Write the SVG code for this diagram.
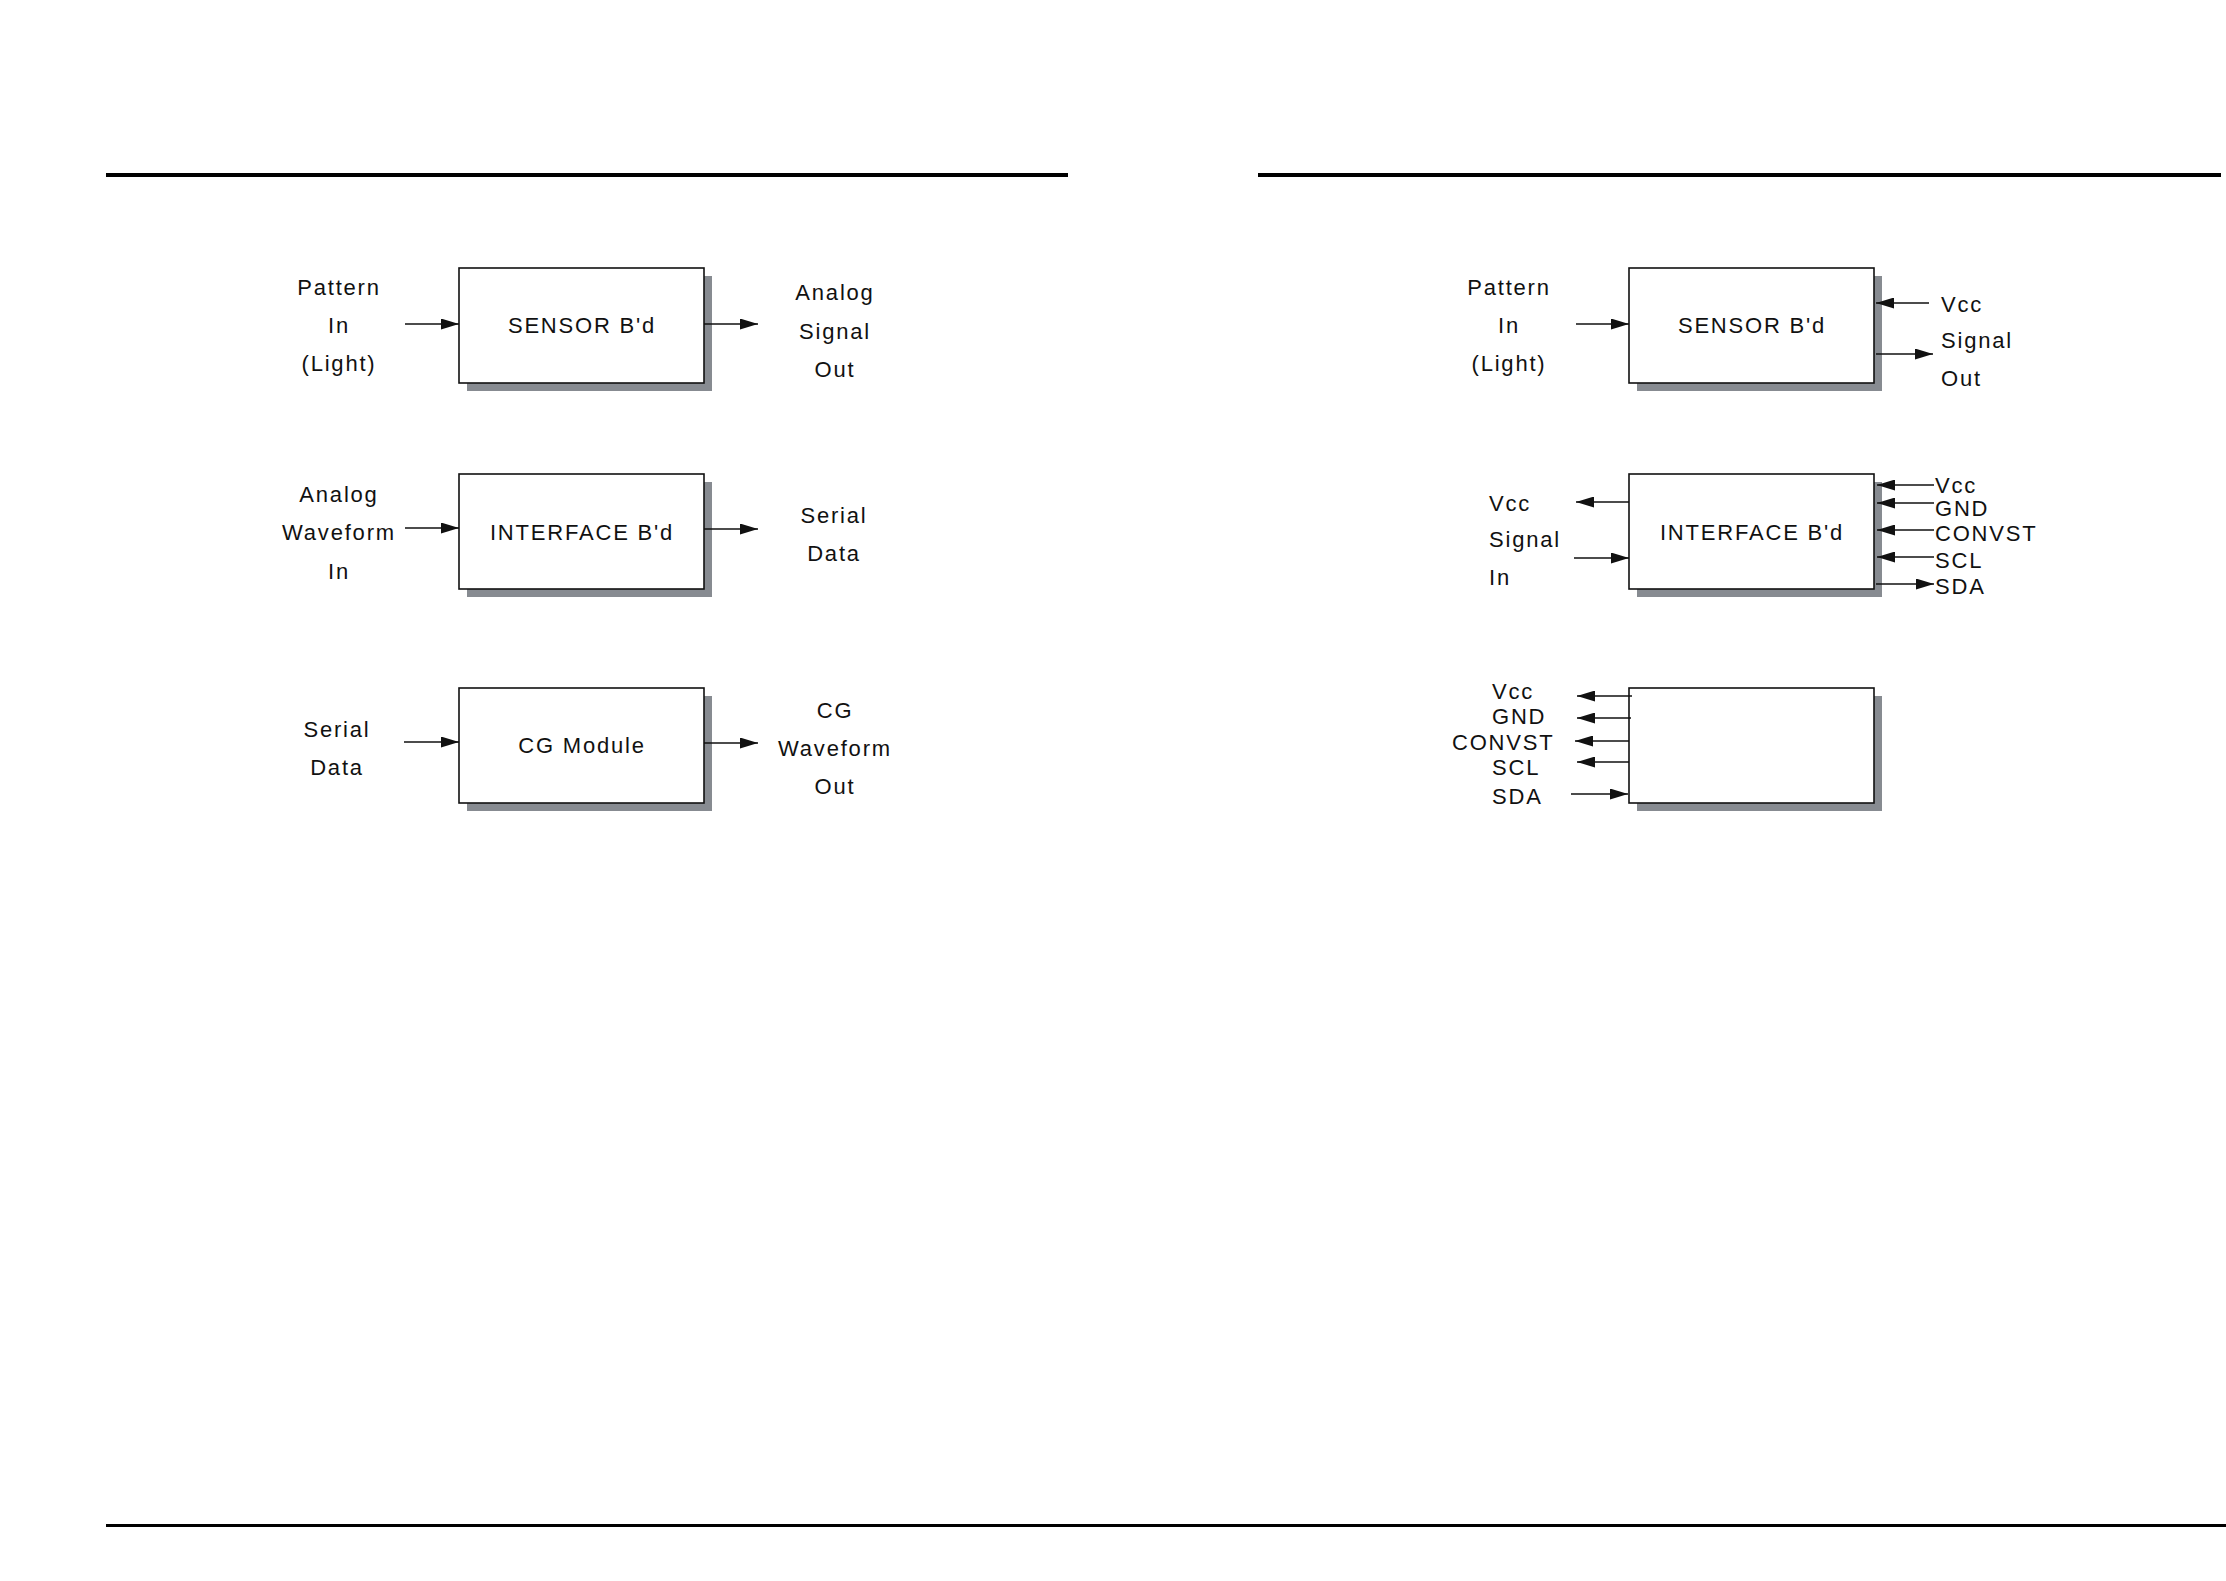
<svg xmlns="http://www.w3.org/2000/svg" width="2226" height="1581" viewBox="0 0 2226 1581">
<style>
.t{font-family:"Liberation Sans",Arial,sans-serif;font-size:22px;letter-spacing:1.8px;fill:#111}
.c{text-anchor:middle}
.box{fill:#fff;stroke:#111;stroke-width:1.6}
.sh{fill:#878b91}
.w{stroke:#111;stroke-width:1.5;fill:none}
.rule{fill:#000}
</style>
<defs>
<marker id="ah" markerUnits="userSpaceOnUse" markerWidth="18" markerHeight="11" refX="18" refY="5.5" orient="auto">
<path d="M0,0 L18,5.5 L0,11 z" fill="#111"/>
</marker>
</defs>
<rect width="2226" height="1581" fill="#fff"/>
<g id="rules">
<rect class="rule" x="106" y="173" width="962" height="4"/>
<rect class="rule" x="1258" y="173" width="963" height="4"/>
<rect class="rule" x="106" y="1524" width="2120" height="3"/>
</g>

<g id="left-sensor">
<rect class="sh" x="467" y="276" width="245" height="115"/>
<rect class="box" x="459" y="268" width="245" height="115"/>
<text class="t c" x="582" y="333">SENSOR B'd</text>
</g>
<g id="left-sensor-labels">
<text class="t c" x="339" y="295">Pattern</text>
<text class="t c" x="339" y="333">In</text>
<text class="t c" x="339" y="371">(Light)</text>
<text class="t c" x="835" y="300">Analog</text>
<text class="t c" x="835" y="339">Signal</text>
<text class="t c" x="835" y="377">Out</text>
</g>

<g id="left-interface">
<rect class="sh" x="467" y="482" width="245" height="115"/>
<rect class="box" x="459" y="474" width="245" height="115"/>
<text class="t c" x="582" y="540">INTERFACE B'd</text>
</g>
<g id="left-interface-labels">
<text class="t c" x="339" y="502">Analog</text>
<text class="t c" x="339" y="540">Waveform</text>
<text class="t c" x="339" y="579">In</text>
<text class="t c" x="834" y="523">Serial</text>
<text class="t c" x="834" y="561">Data</text>
</g>

<g id="left-cg">
<rect class="sh" x="467" y="696" width="245" height="115"/>
<rect class="box" x="459" y="688" width="245" height="115"/>
<text class="t c" x="582" y="753">CG Module</text>
</g>
<g id="left-cg-labels">
<text class="t c" x="337" y="737">Serial</text>
<text class="t c" x="337" y="775">Data</text>
<text class="t c" x="835" y="718">CG</text>
<text class="t c" x="835" y="756">Waveform</text>
<text class="t c" x="835" y="794">Out</text>
</g>

<g id="right-sensor">
<rect class="sh" x="1637" y="276" width="245" height="115"/>
<rect class="box" x="1629" y="268" width="245" height="115"/>
<text class="t c" x="1752" y="333">SENSOR B'd</text>
</g>
<g id="right-sensor-labels">
<text class="t c" x="1509" y="295">Pattern</text>
<text class="t c" x="1509" y="333">In</text>
<text class="t c" x="1509" y="371">(Light)</text>
<text class="t" x="1941" y="312">Vcc</text>
<text class="t" x="1941" y="348">Signal</text>
<text class="t" x="1941" y="386">Out</text>
</g>

<g id="right-interface">
<rect class="sh" x="1637" y="482" width="245" height="115"/>
<rect class="box" x="1629" y="474" width="245" height="115"/>
<text class="t c" x="1752" y="540">INTERFACE B'd</text>
</g>
<g id="right-interface-labels">
<text class="t" x="1489" y="511">Vcc</text>
<text class="t" x="1489" y="547">Signal</text>
<text class="t" x="1489" y="585">In</text>
<text class="t" x="1935" y="493">Vcc</text>
<text class="t" x="1935" y="516">GND</text>
<text class="t" x="1935" y="541">CONVST</text>
<text class="t" x="1935" y="568">SCL</text>
<text class="t" x="1935" y="594">SDA</text>
</g>

<g id="right-module">
<rect class="sh" x="1637" y="696" width="245" height="115"/>
<rect class="box" x="1629" y="688" width="245" height="115"/>
</g>
<g id="right-module-labels">
<text class="t" x="1492" y="699">Vcc</text>
<text class="t" x="1492" y="724">GND</text>
<text class="t" x="1452" y="750">CONVST</text>
<text class="t" x="1492" y="775">SCL</text>
<text class="t" x="1492" y="804">SDA</text>
</g>

<g id="connectors" class="w">
<line x1="405" y1="324" x2="459" y2="324" marker-end="url(#ah)"/>
<line x1="704" y1="324" x2="758" y2="324" marker-end="url(#ah)"/>
<line x1="405" y1="528" x2="459" y2="528" marker-end="url(#ah)"/>
<line x1="704" y1="529" x2="758" y2="529" marker-end="url(#ah)"/>
<line x1="404" y1="742" x2="459" y2="742" marker-end="url(#ah)"/>
<line x1="704" y1="743" x2="758" y2="743" marker-end="url(#ah)"/>

<line x1="1576" y1="324" x2="1629" y2="324" marker-end="url(#ah)"/>
<line x1="1929" y1="303" x2="1876" y2="303" marker-end="url(#ah)"/>
<line x1="1876" y1="354" x2="1933" y2="354" marker-end="url(#ah)"/>

<line x1="1629" y1="502" x2="1576" y2="502" marker-end="url(#ah)"/>
<line x1="1574" y1="558" x2="1629" y2="558" marker-end="url(#ah)"/>
<line x1="1934" y1="485" x2="1877" y2="485" marker-end="url(#ah)"/>
<line x1="1934" y1="503" x2="1877" y2="503" marker-end="url(#ah)"/>
<line x1="1934" y1="530" x2="1877" y2="530" marker-end="url(#ah)"/>
<line x1="1934" y1="557" x2="1877" y2="557" marker-end="url(#ah)"/>
<line x1="1876" y1="584" x2="1934" y2="584" marker-end="url(#ah)"/>

<line x1="1632" y1="696" x2="1577" y2="696" marker-end="url(#ah)"/>
<line x1="1631" y1="718" x2="1577" y2="718" marker-end="url(#ah)"/>
<line x1="1629" y1="741" x2="1575" y2="741" marker-end="url(#ah)"/>
<line x1="1629" y1="762" x2="1577" y2="762" marker-end="url(#ah)"/>
<line x1="1571" y1="794" x2="1628" y2="794" marker-end="url(#ah)"/>
</g>
</svg>
